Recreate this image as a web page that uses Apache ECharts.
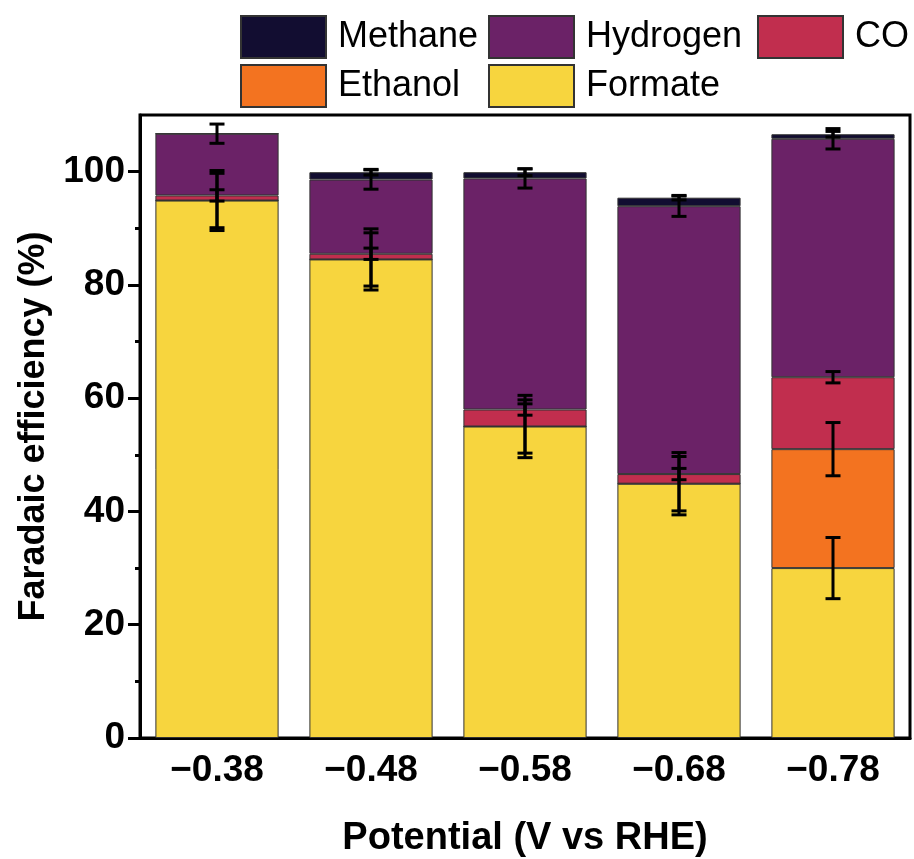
<!DOCTYPE html>
<html>
<head>
<meta charset="utf-8">
<script src="https://cdn.jsdelivr.net/npm/echarts@6/dist/echarts.min.js"></script>
<style>
  html, body { margin: 0; padding: 0; background: #fff; }
  #chart { width: 914px; height: 859px; }
</style>
</head>
<body>
<div id="chart"></div>
<script>
// potentials (V vs RHE)
const categories = ['\u22120.38', '\u22120.48', '\u22120.58', '\u22120.68', '\u22120.78'];

// faradaic efficiency (%) per product, stacked bottom to top
const formate  = [94.9, 84.5, 55.0, 44.9, 30.0];
const ethanol  = [0, 0, 0, 0, 21.0];
const co       = [0.9, 1.0, 3.0, 1.7, 12.7];
const hydrogen = [10.9, 13.1, 40.8, 47.3, 42.1];
const methane  = [0, 1.3, 1.1, 1.5, 0.8];

// error bars (+/-), drawn at the top of each layer
const formateErr  = [5.3, 5.4, 5.5, 5.5, 5.4];
const ethanolErr  = [4.8, 4.7, 4.7, 4.8, 4.7];
const coErr       = [1.0, 1.0, 1.0, 1.0, 1.0];
const hydrogenErr = [1.7, 1.7, 1.7, 1.8, 1.8];
const methaneErr  = [0, 0.5, 0.6, 0.4, 0.5];

const yTicks = [0, 20, 40, 60, 80, 100];
const yMinorTicks = [10, 30, 50, 70, 90];

const fontFamily = '"Liberation Sans", Arial, sans-serif';

const layers = [
  { name: 'Formate',  data: formate,  err: formateErr,  color: '#f7d53e' },
  { name: 'Ethanol',  data: ethanol,  err: ethanolErr,  color: '#f37320' },
  { name: 'CO',       data: co,       err: coErr,       color: '#c12e4e' },
  { name: 'Hydrogen', data: hydrogen, err: hydrogenErr, color: '#6b2267' },
  { name: 'Methane',  data: methane,  err: methaneErr,  color: '#120d31' }
];

// error bar points at cumulative tops
const errPoints = [];
const running = categories.map(() => 0);
layers.forEach(l => {
  l.data.forEach((v, i) => {
    running[i] += v;
    if (l.err[i] > 0) errPoints.push([i, running[i], l.err[i]]);
  });
});

function renderErr (params, api) {
  const x = api.value(0);
  const top = api.value(1);
  const e = api.value(2);
  const hi = api.coord([x, top + e]);
  const lo = api.coord([x, top - e]);
  const half = 7.5;
  const style = { stroke: '#000', lineWidth: 3 };
  return {
    type: 'group',
    children: [
      { type: 'line', shape: { x1: hi[0], y1: hi[1], x2: lo[0], y2: lo[1] }, style },
      { type: 'line', shape: { x1: hi[0] - half, y1: hi[1], x2: hi[0] + half, y2: hi[1] }, style },
      { type: 'line', shape: { x1: lo[0] - half, y1: lo[1], x2: lo[0] + half, y2: lo[1] }, style }
    ]
  };
}

const chart = echarts.init(document.getElementById('chart'));

const legendBase = {
  orient: 'vertical',
  padding: 0,
  itemWidth: 85,
  itemHeight: 42,
  itemGap: 5,
  icon: 'rect',
  textStyle: { fontFamily, fontSize: 36, color: '#000', padding: [0, 0, 0, 7], lineHeight: 42 }
};

const series = layers.map(l => ({
  name: l.name,
  type: 'bar',
  stack: 'fe',
  barWidth: '80%',
  data: l.data,
  itemStyle: { color: l.color, borderColor: '#333', borderWidth: 1 },
  emphasis: { disabled: true }
}));
series.push({
  type: 'custom',
  renderItem: renderErr,
  data: errPoints,
  z: 10,
  silent: true
});

chart.setOption({
  animation: false,
  backgroundColor: '#fff',
  textStyle: { fontFamily },
  legend: [
    Object.assign({}, legendBase, { left: 240, top: 15, data: ['Methane', 'Ethanol'] }),
    Object.assign({}, legendBase, { left: 488, top: 15, data: ['Hydrogen', 'Formate'] }),
    Object.assign({}, legendBase, { left: 757, top: 15, data: ['CO'] })
  ],
  grid: {
    left: 140, right: 4, top: 115, bottom: 121,
    outerBoundsMode: 'none',
    show: true, borderColor: '#000', borderWidth: 3
  },
  xAxis: [
    {
      type: 'category',
      data: categories,
      name: 'Potential (V vs RHE)',
      nameLocation: 'middle',
      nameGap: 82,
      nameTextStyle: { fontSize: 38, fontWeight: 'bold', color: '#000' },
      axisLine: { lineStyle: { color: '#000', width: 3 } },
      axisTick: { alignWithLabel: true, length: 12, lineStyle: { color: '#000', width: 3 } },
      axisLabel: { margin: 14, fontSize: 37, fontWeight: 'bold', color: '#000' }
    },
    {
      // minor ticks at category boundaries
      type: 'category',
      data: categories,
      position: 'bottom',
      axisLine: { show: false },
      axisTick: { length: 5, lineStyle: { color: '#000', width: 3 } },
      axisLabel: { show: false }
    }
  ],
  yAxis: [
    {
      type: 'value',
      min: 0, max: 110, interval: 20,
      name: 'Faradaic efficiency (%)',
      nameLocation: 'middle',
      nameGap: 86,
      nameTextStyle: { fontSize: 36, fontWeight: 'bold', color: '#000' },
      splitLine: { show: false },
      axisLine: { show: true, lineStyle: { color: '#000', width: 3 } },
      axisTick: { show: true, length: 12, customValues: yTicks, lineStyle: { color: '#000', width: 3 } },
      axisLabel: { margin: 15, customValues: yTicks, fontSize: 37, fontWeight: 'bold', color: '#000' }
    },
    {
      type: 'value',
      min: 0, max: 110,
      position: 'left',
      splitLine: { show: false },
      axisLine: { show: false },
      axisTick: { show: true, length: 5, customValues: yMinorTicks, lineStyle: { color: '#000', width: 3 } },
      axisLabel: { show: false }
    }
  ],
  series: series
});
</script>
</body>
</html>
